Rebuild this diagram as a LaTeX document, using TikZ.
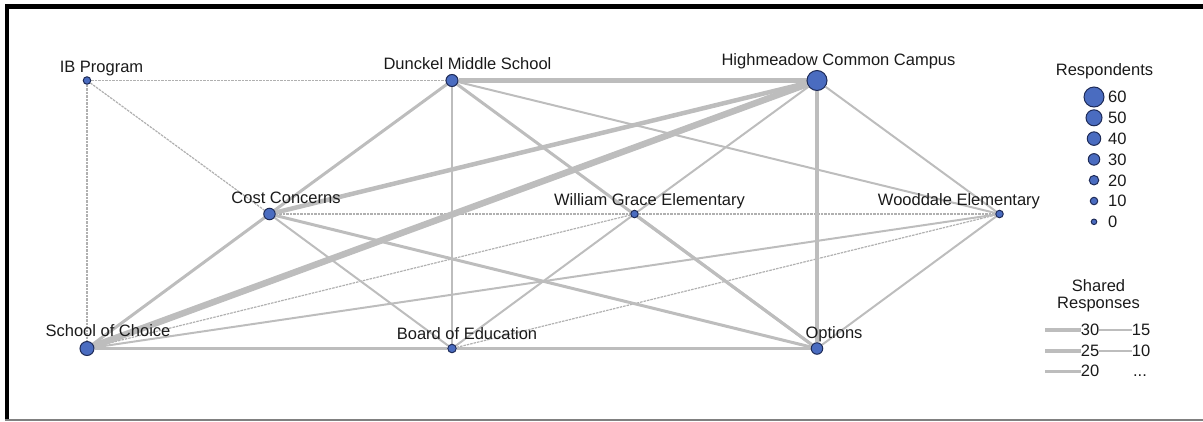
\documentclass[tikz,border=0pt]{standalone}
\usepackage{fontspec}
\setmainfont{Liberation Sans}
\usepackage{xcolor}
\usepackage{tikz}
\usetikzlibrary{backgrounds}

\definecolor{nodefill}{HTML}{4A6CC0}
\definecolor{nodeline}{HTML}{1E2B57}
\definecolor{linkgray}{HTML}{BDBDBD}
\definecolor{dashgray}{HTML}{B0B0B0}
\definecolor{labeltext}{HTML}{1A1A1A}

\begin{document}
\begin{tikzpicture}[
        x=1pt,
        y=-1pt,
        school/.style={
            circle,
            draw=nodeline,
            fill=nodefill,
            line width=1pt,
            inner sep=0pt,
            minimum size=#1
        },
        schoolname/.style={
            font=\fontsize{16.5}{17}\selectfont,
            text=labeltext,
            inner sep=0pt,
            text height=11.8pt,
            text depth=0pt
        },
        link/.style={
            draw=linkgray,
            line width=#1
        },
        weak/.style={
            draw=dashgray,
            line width=1.2pt,
            dash pattern=on 2.5pt off 1pt
        },
        label distance=4pt,
        ]

        \useasboundingbox (0,0) rectangle (1203,421);

        % frame
        \fill [black] (5,4) rectangle (1203,8.5);
        \fill [black] (5,4) rectangle (9,421);
        \draw [gray, line width=1.3pt] (5,420) -- (1203,420);

        % schools and topics
        \node [school=7.5pt, label={[schoolname,xshift=14.5pt]above:IB Program}] (ib-program) at (87,80.5) {};
        \node [school=12pt, label={[schoolname,xshift=15.5pt]above:Dunckel Middle School}] (dunckel) at (452,80.5) {};
        \node [school=20pt, label={[schoolname,xshift=21.5pt]above:Highmeadow Common Campus}] (highmeadow) at (817,80.5) {};
        \node [school=11.5pt, label={[schoolname,xshift=16.5pt]above:Cost Concerns}] (cost-concerns) at (269.5,214) {};
        \node [school=7.5pt, label={[schoolname,xshift=15pt]above:William Grace Elementary}] (william-grace) at (634.5,214) {};
        \node [school=7.5pt, label={[schoolname,xshift=-40.5pt]above:Wooddale Elementary}] (wooddale) at (999.5,214) {};
        \node [school=14pt, label={[schoolname,xshift=21pt]above:School of Choice}] (school-of-choice) at (87,348.5) {};
        \node [school=8.5pt, label={[schoolname,xshift=15pt]above:Board of Education}] (board-of-education) at (452,348.5) {};
        \node [school=11.5pt, label={[schoolname,xshift=17pt]above:Options}] (options) at (817,348.5) {};

        \begin{scope}[on background layer]
            \path [weak] (ib-program) -- (dunckel);
            \path [weak] (ib-program) -- (school-of-choice);
            \path [weak] (ib-program) -- (cost-concerns);
            \path [weak] (cost-concerns) -- (william-grace);
            \path [weak] (william-grace) -- (wooddale);
            \path [weak] (school-of-choice) -- (william-grace);
            \path [weak] (board-of-education) -- (wooddale);

            \path [link=4.5pt] (dunckel) -- (highmeadow);
            \path [link=6.5pt] (highmeadow) -- (school-of-choice);
            \path [link=4.5pt] (highmeadow) -- (cost-concerns);
            \path [link=4pt] (highmeadow) -- (options);
            \path [link=2pt] (highmeadow) -- (william-grace);
            \path [link=2pt] (highmeadow) -- (wooddale);
            \path [link=3pt] (dunckel) -- (cost-concerns);
            \path [link=3pt] (cost-concerns) -- (school-of-choice);
            \path [link=1.8pt] (dunckel) -- (board-of-education);
            \path [link=3pt] (dunckel) -- (options);
            \path [link=2pt] (dunckel) -- (wooddale);
            \path [link=3pt] (cost-concerns) -- (options);
            \path [link=2pt] (cost-concerns) -- (board-of-education);
            \path [link=3.8pt] (school-of-choice) -- (board-of-education);
            \path [link=3.8pt] (board-of-education) -- (options);
            \path [link=3pt] (william-grace) -- (options);
            \path [link=2pt] (william-grace) -- (board-of-education);
            \path [link=2pt] (school-of-choice) -- (wooddale);
            \path [link=2pt] (options) -- (wooddale);
        \end{scope}

        % legend: respondents
        \node [schoolname] (respondents) at (1104.5,70) {Respondents};
        \node [school=20pt] (resp-60) at (1094,97) {};
        \node [school=16pt] (resp-50) at (1094,117.8) {};
        \node [school=13.5pt] (resp-40) at (1094,138.6) {};
        \node [school=11.5pt] (resp-30) at (1094,159.4) {};
        \node [school=9.5pt] (resp-20) at (1094,180.2) {};
        \node [school=7.5pt] (resp-10) at (1094,201) {};
        \node [school=5.5pt] (resp-0) at (1094,221.8) {};
        \node [schoolname,anchor=west] at (1108,97) {60};
        \node [schoolname,anchor=west] at (1108,117.8) {50};
        \node [schoolname,anchor=west] at (1108,138.6) {40};
        \node [schoolname,anchor=west] at (1108,159.4) {30};
        \node [schoolname,anchor=west] at (1108,180.2) {20};
        \node [schoolname,anchor=west] at (1108,201) {10};
        \node [schoolname,anchor=west] at (1108,221.8) {0};

        % legend: shared responses
        \node [font=\fontsize{16.5}{17}\selectfont, text=labeltext, inner sep=0pt, align=center] (shared) at (1098.5,296) {Shared\\Responses};
        \coordinate (swatch-30) at (1045,330);
        \coordinate (swatch-25) at (1045,351);
        \coordinate (swatch-20) at (1045,371);
        \node [schoolname] (shared-30) at (1090,330) {30};
        \node [schoolname] (shared-25) at (1090,351) {25};
        \node [schoolname] (shared-20) at (1090,371) {20};
        \node [schoolname] (shared-15) at (1141,330) {15};
        \node [schoolname] (shared-10) at (1141,351) {10};
        \node [schoolname] (shared-more) at (1140,371) {...};
        \path [link=4pt] (swatch-30) -- (shared-30);
        \path [link=3.5pt] (swatch-25) -- (shared-25);
        \path [link=3pt] (swatch-20) -- (shared-20);
        \path [link=2pt] (shared-30) -- (shared-15);
        \path [link=1.5pt] (shared-25) -- (shared-10);
    \end{tikzpicture}
\end{document}
